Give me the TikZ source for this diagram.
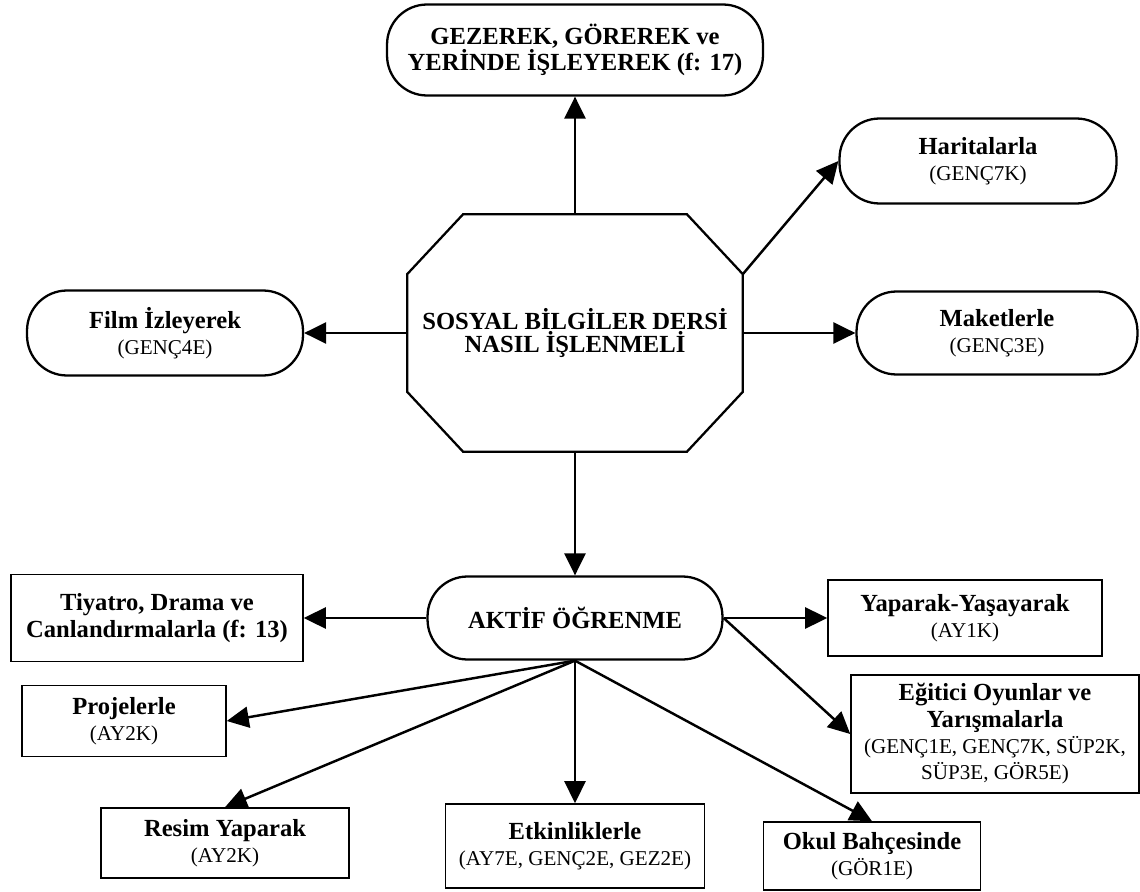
\documentclass[tikz,border=0pt]{standalone}
\usepackage{fontspec}
\setmainfont{Liberation Serif}
\usetikzlibrary{arrows.meta,calc}
\newcommand{\baslik}[1]{{\fontsize{14}{15.5}\selectfont\bfseries #1}}
\begin{document}
\begin{tikzpicture}[x=0.02cm,y=-0.02cm]
\tikzset{yuvarlak/.style={draw, line width=1.3pt, rounded corners=0.8cm, align=center, inner sep=2pt, font=\fontsize{12}{15}\selectfont}}
\tikzset{kutu/.style={draw, line width=0.9pt, align=center, inner sep=2pt, font=\fontsize{12}{15}\selectfont}}
\tikzset{ok/.style={-{Triangle[length=0.44cm,width=0.42cm]}, line width=1.4pt}}
\useasboundingbox (0,0) rectangle (1140,892);
\node[minimum width=6.7cm, minimum height=4.74cm, align=center] (ana) at (575,333) {\baslik{SOSYAL BİLGİLER DERSİ}\\\baslik{NASIL İŞLENMELİ}};
\draw[line width=1.3pt] ($(ana.north west)+(1.12cm,0)$) -- ($(ana.north east)+(-1.12cm,0)$) -- ($(ana.north east)+(0,-1.2cm)$) -- ($(ana.south east)+(0,1.2cm)$) -- ($(ana.south east)+(-1.12cm,0)$) -- ($(ana.south west)+(1.12cm,0)$) -- ($(ana.south west)+(0,1.2cm)$) -- ($(ana.north west)+(0,-1.2cm)$) -- cycle;
\coordinate (kose) at ($(ana.north east)+(0,-1.2cm)$);
\node[yuvarlak, minimum width=7.52cm, minimum height=1.82cm] (gez) at (575,50) {\baslik{GEZEREK, GÖREREK ve}\\\baslik{YERİNDE İŞLEYEREK (f: 17)}};
\node[yuvarlak, minimum width=5.54cm, minimum height=1.7cm] (harita) at (978,161) {\baslik{Haritalarla}\\(GENÇ7K)};
\node[yuvarlak, minimum width=5.62cm, minimum height=1.66cm] (maket) at (997,333) {\baslik{Maketlerle}\\(GENÇ3E)};
\node[yuvarlak, minimum width=5.52cm, minimum height=1.7cm] (film) at (165,333) {\baslik{Film İzleyerek}\\(GENÇ4E)};
\node[yuvarlak, minimum width=5.9cm, minimum height=1.66cm] (aktif) at (575,618) {\baslik{AKTİF ÖĞRENME}};
\node[kutu, minimum width=5.84cm, minimum height=1.74cm] (tiyatro) at (157,618) {\baslik{Tiyatro, Drama ve}\\\baslik{Canlandırmalarla (f: 13)}};
\node[kutu, minimum width=4.08cm, minimum height=1.42cm] (proje) at (124,721) {\baslik{Projelerle}\\(AY2K)};
\node[kutu, minimum width=4.96cm, minimum height=1.4cm] (resim) at (225,843) {\baslik{Resim Yaparak}\\(AY2K)};
\node[kutu, minimum width=5.18cm, minimum height=1.68cm] (etkin) at (575,846) {\baslik{Etkinliklerle}\\(AY7E, GENÇ2E, GEZ2E)};
\node[kutu, minimum width=4.34cm, minimum height=1.36cm] (okul) at (872,856) {\baslik{Okul Bahçesinde}\\(GÖR1E)};
\node[kutu, minimum width=5.48cm, minimum height=1.52cm] (yapar) at (965,618) {\baslik{Yaparak-Yaşayarak}\\(AY1K)};
\node[kutu, minimum width=5.76cm, minimum height=2.36cm] (oyun) at (995,734) {\baslik{Eğitici Oyunlar ve}\\\baslik{Yarışmalarla}\\(GENÇ1E, GENÇ7K, SÜP2K,\\SÜP3E, GÖR5E)};
\draw[ok] (ana.north) -- (gez.south);
\draw[ok] (ana.west) -- (film.east);
\draw[ok] (ana.east) -- (maket.west);
\draw[ok] (kose) -- (harita.west);
\draw[ok] (ana.south) -- (aktif.north);
\draw[ok] (aktif.west) -- (tiyatro.east);
\draw[ok] (aktif.east) -- (yapar.west);
\draw[ok] (aktif.east) -- (oyun.west);
\draw[ok] (aktif.south) -- (proje.east);
\draw[ok] (aktif.south) -- (resim.north);
\draw[ok] (aktif.south) -- (etkin.north);
\draw[ok] (aktif.south) -- (okul.north);
\end{tikzpicture}
\end{document}
